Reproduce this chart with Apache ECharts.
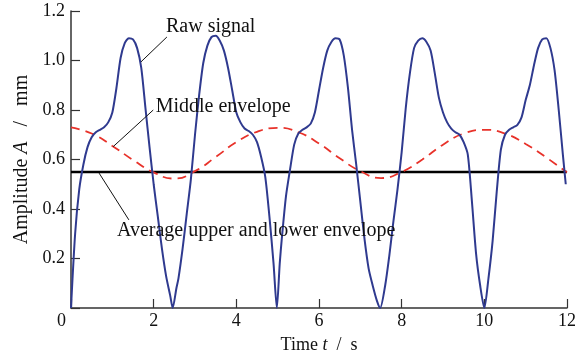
<!DOCTYPE html>
<html>
<head>
<meta charset="utf-8">
<script src="https://cdn.jsdelivr.net/npm/echarts@6/dist/echarts.min.js"></script>
<style>html,body{margin:0;padding:0;background:#fff}#c{width:579px;height:363px}</style>
</head>
<body>
<div id="c"></div>
<script>
// ---- data ----
const rawTime = [0,0.1,0.2,0.3,0.4,0.5,0.6,0.7,0.8,0.9,1.0,1.1,1.2,1.3,1.4,1.5,1.6,1.7,1.8,1.9,2.0,2.1,2.2,2.3,2.4,2.46,2.55,2.6,2.7,2.8,2.9,3.0,3.1,3.2,3.3,3.4,3.5,3.6,3.7,3.8,3.9,4.0,4.1,4.2,4.3,4.4,4.5,4.6,4.7,4.8,4.9,4.98,5.05,5.1,5.2,5.3,5.4,5.5,5.6,5.7,5.8,5.9,6.0,6.1,6.2,6.3,6.4,6.5,6.6,6.7,6.8,6.9,7.0,7.1,7.2,7.3,7.4,7.48,7.6,7.7,7.8,7.9,8.0,8.1,8.2,8.3,8.4,8.5,8.6,8.7,8.8,8.9,9.0,9.1,9.2,9.3,9.4,9.5,9.6,9.7,9.8,9.9,10.0,10.1,10.2,10.3,10.4,10.5,10.6,10.7,10.8,10.9,11.0,11.1,11.2,11.3,11.4,11.5,11.6,11.7,11.8,11.9,11.97];
const rawAmp  = [0,0.30,0.48,0.58,0.65,0.69,0.71,0.72,0.73,0.75,0.79,0.89,1.01,1.07,1.09,1.085,1.05,0.97,0.81,0.65,0.50,0.37,0.24,0.13,0.05,0,0.08,0.12,0.24,0.38,0.52,0.70,0.86,0.99,1.06,1.095,1.10,1.08,1.04,0.97,0.88,0.79,0.75,0.725,0.715,0.70,0.67,0.61,0.53,0.37,0.18,0,0.18,0.28,0.45,0.56,0.66,0.705,0.72,0.73,0.745,0.79,0.88,0.97,1.04,1.075,1.09,1.085,1.02,0.89,0.72,0.58,0.43,0.28,0.16,0.09,0.03,0,0.09,0.21,0.35,0.48,0.63,0.81,0.95,1.05,1.08,1.09,1.075,1.04,0.95,0.85,0.79,0.75,0.725,0.71,0.70,0.67,0.62,0.43,0.22,0.09,0,0.12,0.27,0.47,0.64,0.70,0.72,0.73,0.74,0.77,0.84,0.90,0.98,1.05,1.085,1.09,1.05,0.96,0.80,0.62,0.50];
const midTime = [0,0.5,1.0,1.5,2.0,2.5,3.0,3.5,4.0,4.5,5.0,5.5,6.0,6.5,7.0,7.5,8.0,8.5,9.0,9.5,10.0,10.5,11.0,11.5,12.0];
const midAmp  = [0.73,0.705,0.655,0.598,0.548,0.523,0.553,0.61,0.67,0.712,0.728,0.71,0.665,0.605,0.553,0.525,0.55,0.60,0.66,0.705,0.72,0.705,0.663,0.608,0.548];
const avgTime = [0,12];
const avgAmp  = [0.55,0.55];
const xTicks = [0,2,4,6,8,10,12];
const yTicks = [0,0.2,0.4,0.6,0.8,1.0,1.2];
const labels = ['Raw signal','Middle envelope','Average upper and lower envelope'];

// ---- layout (not data) ----
const labelAnchor = [[3.38,1.137],[3.68,0.812],[4.48,0.311]];
const leaders = [
  [[2.32,1.095],[1.69,0.994]],
  [[1.99,0.80],[1.02,0.652]],
  [[0.68,0.545],[1.40,0.356]]
];

const zip = (a,b)=>a.map((v,i)=>[v,b[i]]);
const serif = '"Liberation Serif","DejaVu Serif",serif';
const chart = echarts.init(document.getElementById('c'), null, {renderer:'canvas'});

const leaderSeries = leaders.map(l=>({
  type:'line', data:l, symbol:'none', silent:true, z:5,
  lineStyle:{color:'#111', width:1}
}));

chart.setOption({
  animation:false,
  backgroundColor:'#fff',
  grid:{left:71,right:11,top:11,bottom:55},
  xAxis:{
    type:'value', min:0, max:12, interval:2,
    axisLine:{lineStyle:{color:'#333',width:1.5}},
    axisTick:{inside:true,length:9,lineStyle:{color:'#333',width:1.2}},
    splitLine:{show:false},
    axisLabel:{
      color:'#111', fontFamily:serif, fontSize:18, margin:4,
      formatter:v=> v===0 ? '{z|0}' : String(v),
      rich:{z:{fontFamily:serif,fontSize:18,color:'#111',padding:[0,19,0,0]}}
    },
    name:'Time {i|t}  /  s', nameLocation:'middle', nameGap:28,
    nameTextStyle:{color:'#111',fontFamily:serif,fontSize:18,
      rich:{i:{fontFamily:serif,fontSize:18,fontStyle:'italic',color:'#111'}}}
  },
  yAxis:{
    type:'value', min:0, max:1.2, interval:0.2,
    axisLine:{show:true,lineStyle:{color:'#333',width:1.5}},
    axisTick:{show:true,inside:true,length:9,lineStyle:{color:'#333',width:1.2}},
    splitLine:{show:false},
    axisLabel:{color:'#111',fontFamily:serif,fontSize:18,margin:6,
      formatter:v=> v===0 ? '' : v.toFixed(1)},
    name:'Amplitude {i|A}   /   mm', nameLocation:'middle', nameGap:38,
    nameTextStyle:{color:'#111',fontFamily:serif,fontSize:20,
      rich:{i:{fontFamily:serif,fontSize:20,fontStyle:'italic',color:'#111'}}}
  },
  series:[
    {type:'line', name:'avg', data:zip(avgTime,avgAmp), symbol:'none', z:2,
      lineStyle:{color:'#000',width:2.5}},
    {type:'line', name:'mid', data:zip(midTime,midAmp), symbol:'none', smooth:true, z:3,
      lineStyle:{color:'#e8322a',width:1.8,type:[9,6]}},
    {type:'line', name:'raw', data:zip(rawTime,rawAmp), symbol:'none', smooth:0.25, z:4,
      lineStyle:{color:'#2f3a8f',width:2}},
    ...leaderSeries
  ]
});

const g = labels.map((t,i)=>{
  const p = chart.convertToPixel({gridIndex:0}, labelAnchor[i]);
  return {type:'text', x:p[0], y:p[1], z:10,
    style:{text:t, fill:'#111', font:'20px '+serif, align:'center', verticalAlign:'middle'}};
});
chart.setOption({graphic:g});
</script>
</body>
</html>
